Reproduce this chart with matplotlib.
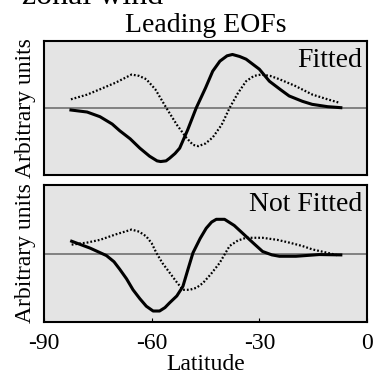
import matplotlib
matplotlib.use('Agg')
import matplotlib.pyplot as plt

# leading EOF, fitted
FIT_SOLID_LAT = [-82.5, -78.0, -74.4, -71.0, -68.9, -66.0, -63.3, -60.6, -58.5,
                 -57.5, -56.0, -55.0, -53.5, -52.2, -50.0, -47.6, -45.0, -43.0,
                 -41.0, -39.0, -37.5, -35.5, -33.7, -30.0, -27.2, -24.0, -21.7,
                 -18.0, -15.3, -11.0, -7.3]
FIT_SOLID = [-0.03, -0.06, -0.13, -0.24, -0.34, -0.46, -0.60, -0.72, -0.79,
             -0.80, -0.79, -0.75, -0.68, -0.60, -0.33, 0.0, 0.30, 0.55,
             0.70, 0.78, 0.80, 0.77, 0.73, 0.58, 0.40, 0.27, 0.18,
             0.10, 0.055, 0.02, 0.005]
FIT_DOT_LAT = [-82.5, -78.0, -74.4, -70.0, -65.6, -63.5, -61.5, -59.0, -55.9,
               -53.0, -50.4, -48.5, -47.0, -45.0, -43.0, -40.5, -38.3, -36.0,
               -33.7, -31.5, -29.5, -27.0, -24.4, -20.0, -15.2, -11.0, -7.8]
FIT_DOT = [0.13, 0.20, 0.28, 0.38, 0.50, 0.48, 0.43, 0.28, 0.0,
           -0.25, -0.44, -0.55, -0.57, -0.53, -0.44, -0.25, 0.0, 0.22,
           0.40, 0.48, 0.50, 0.48, 0.43, 0.33, 0.20, 0.13, 0.08]

# leading EOF, not fitted
RAW_SOLID_LAT = [-82.3, -77.2, -72.6, -70.5, -68.9, -67.0, -65.2, -63.3, -61.5,
                 -59.6, -57.8, -56.3, -55.0, -53.0, -51.3, -50.0, -48.5, -46.5,
                 -44.8, -43.3, -42.0, -39.7, -37.0, -33.7, -31.0, -29.1, -26.5,
                 -24.4, -19.8, -13.3, -7.3]
RAW_SOLID = [0.18, 0.08, -0.03, -0.12, -0.23, -0.37, -0.53, -0.66, -0.77,
             -0.84, -0.84, -0.79, -0.72, -0.62, -0.48, -0.25, 0.01, 0.22,
             0.37, 0.46, 0.50, 0.50, 0.41, 0.25, 0.12, 0.03, -0.02,
             -0.04, -0.04, -0.015, -0.02]
RAW_DOT_LAT = [-82.3, -78.0, -74.4, -70.0, -65.6, -63.5, -61.5, -60.0, -58.7,
               -57.0, -55.0, -53.0, -51.3, -49.4, -47.5, -45.7, -43.5, -41.1,
               -38.3, -36.0, -33.7, -29.1, -25.0, -21.7, -18.0, -15.2, -11.0,
               -7.8]
RAW_DOT = [0.13, 0.16, 0.20, 0.28, 0.35, 0.32, 0.25, 0.15, 0.01,
           -0.14, -0.28, -0.42, -0.53, -0.53, -0.50, -0.43, -0.30, -0.14,
           0.11, 0.19, 0.23, 0.23, 0.20, 0.16, 0.11, 0.06, 0.01,
           -0.03]

XTICKS = [-90, -60, -30, 0]

plt.rcParams['font.family'] = ['Liberation Serif', 'DejaVu Serif']
FS = 17
BIG = 20

fig = plt.figure(figsize=(3.73, 3.77), dpi=100)
ax1 = fig.add_axes([0.118, 0.536, 0.866, 0.355])
ax2 = fig.add_axes([0.118, 0.146, 0.866, 0.363])

panels = [
    (ax1, FIT_SOLID_LAT, FIT_SOLID, FIT_DOT_LAT, FIT_DOT, 'Fitted'),
    (ax2, RAW_SOLID_LAT, RAW_SOLID, RAW_DOT_LAT, RAW_DOT, 'Not Fitted'),
]

for ax, sl, sv, dl, dv, label in panels:
    ax.set_facecolor('#e4e4e4')
    ax.axhline(0, color='#707070', lw=1.2, zorder=1)
    ax.plot(sl, sv, '-', color='black', lw=2.2, zorder=3,
            solid_joinstyle='round')
    ax.plot(dl, dv, color='black', lw=1.6, zorder=2,
            linestyle=(0, (0.8, 0.9)))
    ax.set_xlim(-90, 0)
    ax.set_ylim(-1, 1)
    ax.set_yticks([])
    ax.set_ylabel('Arbitrary units', fontsize=FS, labelpad=6)
    ax.text(0.985, 0.95, label, transform=ax.transAxes, ha='right', va='top',
            fontsize=BIG)
    for s in ax.spines.values():
        s.set_linewidth(1.5)

ax1.set_xticks([])
ax2.set_xticks(XTICKS)
ax2.set_xticklabels([str(t) for t in XTICKS], fontsize=FS)
ax2.tick_params(axis='x', direction='in', length=3, width=0.8, pad=8)
ax2.set_xlabel('Latitude', fontsize=FS, labelpad=0)

# upper title is cut off at the top edge, as in the source figure
fig.text(0.059, 0.989, 'zonal wind', fontsize=23, ha='left', va='baseline')
fig.text(0.552, 0.915, 'Leading EOFs', fontsize=BIG, ha='center',
         va='baseline')

fig.savefig('out.png', dpi=100)
